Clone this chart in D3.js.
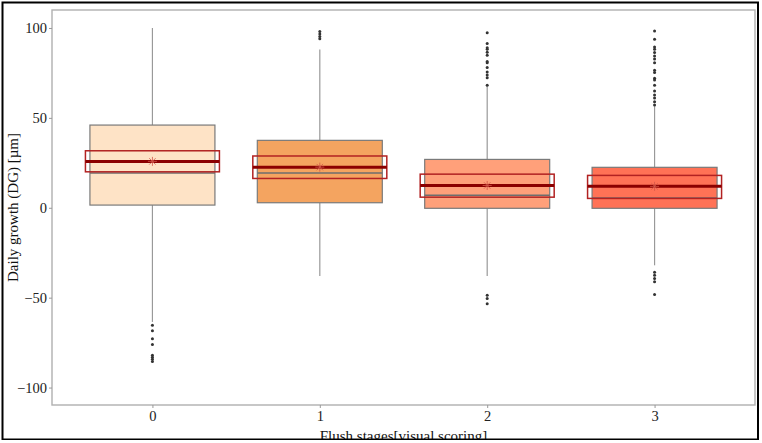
<!DOCTYPE html>
<html>
<head>
<meta charset="utf-8">
<script src="https://cdn.jsdelivr.net/npm/d3@7"></script>
<style>
  body { margin: 0; background: #fff; }
  svg text { font-family: "Liberation Serif", "DejaVu Serif", serif; }
</style>
</head>
<body>
<div id="chart"></div>
<script>
// flush stages and box statistics
const stages = ["0", "1", "2", "3"];
const whiskerLow = [-63.5, -38, -38, -32];
const q1 = [1.5, 2.8, -0.3, -0.3];
const median = [19.3, 19.3, 7, 5.4];
const q3 = [46, 37.5, 26.9, 22.5];
const whiskerHigh = [100, 88, 67.5, 56.5];
const means = [25.8, 22.6, 12.4, 11.9];
const ciLow = [20, 16.3, 5.9, 5.2];
const ciHigh = [31.7, 28.8, 18.7, 18];
const outliers = [
  [-65.3, -68.4, -72.9, -76, -82, -83.2, -84.2, -85.5],
  [94, 95.2, 96.6, 98],
  [68.1, 72.3, 73.9, 75.5, 78, 80.6, 81.3, 84.8, 86.5, 88.2, 89, 91.3, 97.4, -48.7, -50.4, -53.4],
  [57.2, 59, 61, 62.7, 65, 68.1, 71, 72, 75.2, 76.5, 80.7, 82.8, 84.4, 86.3, 88.1, 89.4, 93.7, 98.3,
   -35.8, -37.6, -39.4, -41.2, -48.2]
];
const fills = ["#fee3c6", "#f4a460", "#ffa07a", "#ff7256"];
const yTicks = [-100, -50, 0, 50, 100];

const width = 762, height = 443;
const panel = { left: 52, right: 755, top: 10, bottom: 405 };

const svg = d3.select("#chart").append("svg")
    .attr("width", width)
    .attr("height", height);

const x = d3.scalePoint()
    .domain(stages)
    .range([panel.left, panel.right])
    .padding(0.6);

const y = d3.scaleLinear()
    .domain([-109.7, 110])
    .range([panel.bottom, panel.top]);

const boxHalf = 62.5, ciHalf = 67;

// panel border
svg.append("rect")
    .attr("x", panel.left).attr("y", panel.top)
    .attr("width", panel.right - panel.left)
    .attr("height", panel.bottom - panel.top)
    .attr("fill", "none")
    .attr("stroke", "#b0b0b0")
    .attr("stroke-width", 1.4);

// axes
const yAxis = svg.append("g")
    .attr("transform", `translate(${panel.left},0)`)
    .call(d3.axisLeft(y).tickValues(yTicks).tickSize(3).tickPadding(2));
const xAxis = svg.append("g")
    .attr("transform", `translate(0,${panel.bottom})`)
    .call(d3.axisBottom(x).tickSize(3).tickPadding(3));
[yAxis, xAxis].forEach(a => {
  a.select(".domain").remove();
  a.selectAll("line").attr("stroke", "#999");
  a.selectAll("text").attr("fill", "#222").style("font-size", "14.5px")
    .style("font-family", "'Liberation Serif', serif");
});

const groups = svg.selectAll("g.box")
    .data(stages)
    .join("g")
    .attr("class", "box");

// whiskers
groups.append("line")
    .attr("x1", d => x(d)).attr("x2", d => x(d))
    .attr("y1", (d, i) => y(whiskerHigh[i]))
    .attr("y2", (d, i) => y(q3[i]))
    .attr("stroke", "#999").attr("stroke-width", 1.2);
groups.append("line")
    .attr("x1", d => x(d)).attr("x2", d => x(d))
    .attr("y1", (d, i) => y(q1[i]))
    .attr("y2", (d, i) => y(whiskerLow[i]))
    .attr("stroke", "#999").attr("stroke-width", 1.2);

// boxes
groups.append("rect")
    .attr("x", d => x(d) - boxHalf)
    .attr("width", boxHalf * 2)
    .attr("y", (d, i) => y(q3[i]))
    .attr("height", (d, i) => y(q1[i]) - y(q3[i]))
    .attr("fill", (d, i) => fills[i])
    .attr("stroke", "#7a7a7a").attr("stroke-width", 1.2);

// median
groups.append("line")
    .attr("x1", d => x(d) - boxHalf).attr("x2", d => x(d) + boxHalf)
    .attr("y1", (d, i) => y(median[i])).attr("y2", (d, i) => y(median[i]))
    .attr("stroke", "#6e6e6e").attr("stroke-width", 1.6);

// outliers
groups.each(function(d, i) {
  d3.select(this).selectAll("circle")
    .data(outliers[i])
    .join("circle")
    .attr("cx", x(d))
    .attr("cy", v => y(v))
    .attr("r", 1.5)
    .attr("fill", "#333");
});

// mean interval box
groups.append("rect")
    .attr("x", d => x(d) - ciHalf)
    .attr("width", ciHalf * 2)
    .attr("y", (d, i) => y(ciHigh[i]))
    .attr("height", (d, i) => y(ciLow[i]) - y(ciHigh[i]))
    .attr("fill", "none")
    .attr("stroke", "#b22222").attr("stroke-width", 1.5);

// mean line
groups.append("line")
    .attr("x1", d => x(d) - ciHalf).attr("x2", d => x(d) + ciHalf)
    .attr("y1", (d, i) => y(means[i])).attr("y2", (d, i) => y(means[i]))
    .attr("stroke", "#8b0000").attr("stroke-width", 3);

// mean asterisk
const s = 4.5, sd = 3.2;
groups.append("path")
    .attr("d", (d, i) => {
      const cx = x(d), cy = y(means[i]);
      return `M${cx - s},${cy}H${cx + s}M${cx},${cy - s}V${cy + s}` +
        `M${cx - sd},${cy - sd}L${cx + sd},${cy + sd}M${cx - sd},${cy + sd}L${cx + sd},${cy - sd}`;
    })
    .attr("stroke", "#d2574a").attr("stroke-opacity", 0.8)
    .attr("stroke-width", 1).attr("fill", "none");

// axis titles
svg.append("text")
    .attr("transform", `translate(18,${(panel.top + panel.bottom) / 2}) rotate(-90)`)
    .attr("text-anchor", "middle")
    .style("font-size", "15px")
    .attr("fill", "#111")
    .text("Daily growth (DG) [µm]");

svg.append("text")
    .attr("x", (panel.left + panel.right) / 2)
    .attr("y", 441)
    .attr("text-anchor", "middle")
    .style("font-size", "15px")
    .attr("fill", "#111")
    .text("Flush stages[visual scoring]");

// outer frame
svg.append("rect")
    .attr("x", 2.5).attr("y", 2.5)
    .attr("width", 755.5).attr("height", 437)
    .attr("fill", "none")
    .attr("stroke", "#000").attr("stroke-width", 2);
svg.append("rect")
    .attr("x", 0).attr("y", 440)
    .attr("width", width).attr("height", 3)
    .attr("fill", "#fff");
</script>
</body>
</html>
